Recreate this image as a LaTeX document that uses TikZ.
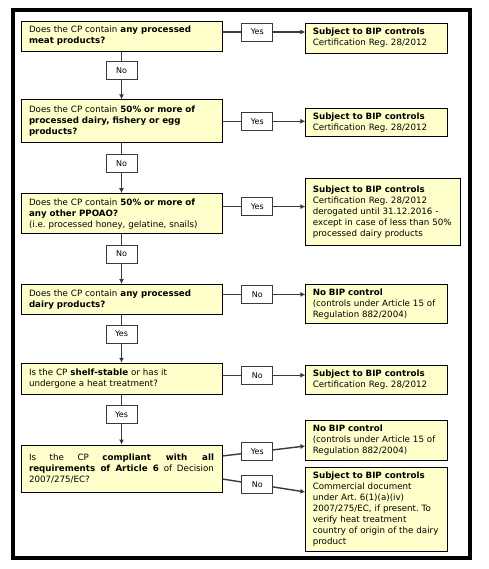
\documentclass[tikz,border=0pt]{standalone}
\usepackage{fontspec}
\setmainfont{DejaVu Sans}
\usepackage{xcolor}
\usetikzlibrary{positioning, arrows.meta}

\definecolor{boxfill}{HTML}{FFFFCC}
\definecolor{linegrey}{HTML}{3A3A3A}
\frenchspacing

\begin{document}
\begin{tikzpicture}[x=1pt, y=-1pt, node distance=48pt,
every node/.style={font=\fontsize{8.7}{11}\selectfont},
qbox/.style={rectangle, draw, line width=0.8pt, fill=boxfill, text width=185pt,
  inner xsep=8pt, inner ysep=3pt, align=left},
rbox/.style={qbox, text width=128pt, inner xsep=7pt},
answer/.style={rectangle, draw, line width=0.8pt, fill=white, minimum width=31pt,
  minimum height=18pt, inner sep=0pt, font=\fontsize{8}{10}\selectfont},
flow/.style={draw=linegrey, line width=1.4pt, -{Latex[length=5pt,width=5pt]}}]

\fill[white] (0,0) rectangle (488,569);
\useasboundingbox (0,0) rectangle (488,569);

% questions
\node[qbox, minimum height=30pt] (q1) at (121.5,36)
  {Does the CP contain \textbf{any processed}\\ \textbf{meat products?}};
\node[qbox, minimum height=43pt, below=48pt of q1] (q2)
  {Does the CP contain \textbf{50\% or more of}\\ \textbf{processed dairy, fishery or egg}\\ \textbf{products?}};
\node[qbox, minimum height=40pt, below=50pt of q2] (q3)
  {Does the CP contain \textbf{50\% or more of}\\ \textbf{any other PPOAO?}\\ (i.e. processed honey, gelatine, snails)};
\node[qbox, minimum height=30pt, below=50pt of q3] (q4)
  {Does the CP contain \textbf{any processed}\\ \textbf{dairy products?}};
\node[qbox, minimum height=31pt, below=48pt of q4] (q5)
  {Is the CP \textbf{shelf-stable} or has it\\ undergone a heat treatment?};
\node[qbox, minimum height=47pt, below=50pt of q5, align=justify] (q6)
  {Is the CP \textbf{compliant with all}\linebreak \textbf{requirements of Article 6} of Decision\linebreak 2007/275/EC?};

% outcomes
\node[rbox, minimum height=30pt, right=83pt of q1.east, yshift=-2pt] (r1)
  {\textbf{Subject to BIP controls}\\ Certification Reg. 28/2012};
\node[rbox, minimum height=28pt, right=83pt of q2.east, yshift=-1.5pt] (r2)
  {\textbf{Subject to BIP controls}\\ Certification Reg. 28/2012};
\node[rbox, text width=141pt, minimum height=67pt, right=83pt of q3.east, yshift=1.5pt] (r3)
  {\textbf{Subject to BIP controls}\\ Certification Reg. 28/2012\\ derogated until 31.12.2016 -\\ except in case of less than 50\%\\ processed dairy products};
\node[rbox, minimum height=39pt, right=83pt of q4.east, yshift=-4.5pt] (r4)
  {\textbf{No BIP control}\\ (controls under Article 15 of\\ Regulation 882/2004)};
\node[rbox, minimum height=29pt, right=83pt of q5.east, yshift=-1pt] (r5)
  {\textbf{Subject to BIP controls}\\ Certification Reg. 28/2012};
\node[rbox, minimum height=40pt, right=83pt of q6.east, yshift=28.5pt] (r6)
  {\textbf{No BIP control}\\ (controls under Article 15 of\\ Regulation 882/2004)};
\node[rbox, minimum height=84pt, right=83pt of q6.east, yshift=-40.5pt] (r7)
  {\textbf{Subject to BIP controls}\\ Commercial document\\ under Art. 6(1)(a)(iv)\\ 2007/275/EC, if present. To\\ verify heat treatment\\ country of origin of the dairy\\ product};

% down the chain
\draw[flow] (q1) -- node[answer, pos=0.4] (n1) {No} (q2);
\draw[flow] (q2) -- node[answer, pos=0.4] (n2) {No} (q3);
\draw[flow] (q3) -- node[answer, pos=0.4] (n3) {No} (q4);
\draw[flow] (q4) -- node[answer, pos=0.4] (n4) {Yes} (q5);
\draw[flow] (q5) -- node[answer, pos=0.4] (n5) {Yes} (q6);

% across to the outcomes
\coordinate (h1) at ([yshift=4pt]q1.east);
\coordinate (h2) at (q2.east);
\coordinate (h3) at ([yshift=7pt]q3.east);
\coordinate (h4) at ([yshift=5pt]q4.east);
\coordinate (h5) at ([yshift=3.5pt]q5.east);
\draw[flow] (h1) -- node[answer, pos=0.42] (a1) {Yes} (h1 -| r1.west);
\draw[flow] (h2) -- node[answer, pos=0.42] (a2) {Yes} (h2 -| r2.west);
\draw[flow] (h3) -- node[answer, pos=0.42] (a3) {Yes} (h3 -| r3.west);
\draw[flow] (h4) -- node[answer, pos=0.42] (a4) {No} (h4 -| r4.west);
\draw[flow] (h5) -- node[answer, pos=0.42] (a5) {No} (h5 -| r5.west);
\draw[flow] ([yshift=12.5pt]q6.east) -- node[answer, pos=0.42] (a6) {Yes} ([yshift=-6pt]r6.west);
\draw[flow] ([yshift=-10.5pt]q6.east) -- node[answer, pos=0.42] (a7) {No} ([yshift=17pt]r7.west);

% frame
\draw[line width=4pt] (13,10) rectangle (470,557.5);
\end{tikzpicture}
\end{document}
